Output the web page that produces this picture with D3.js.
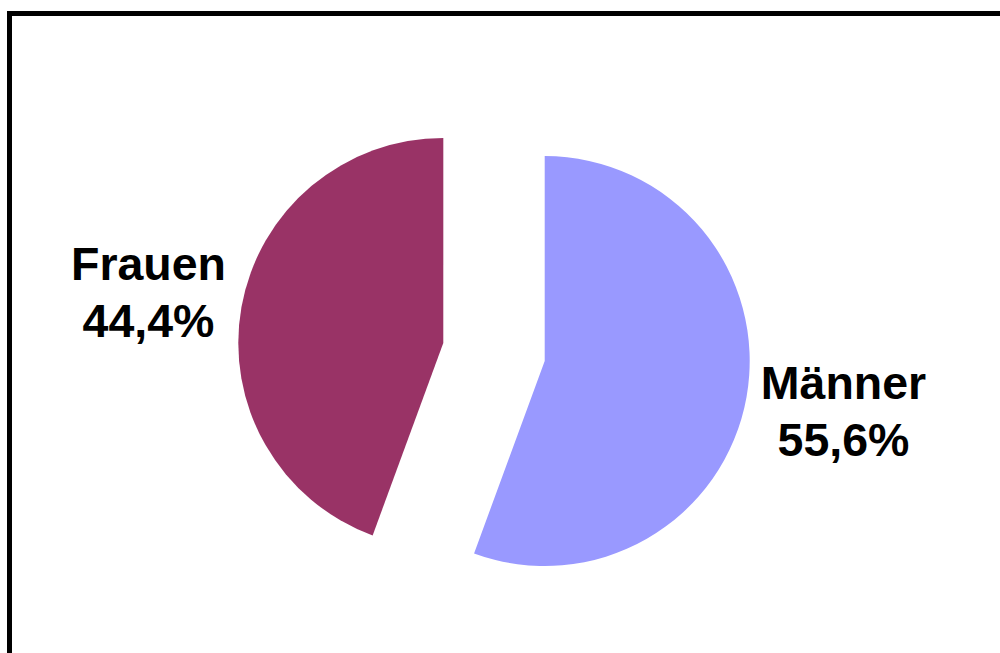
<!DOCTYPE html>
<html>
<head>
<meta charset="utf-8">
<script src="https://cdn.jsdelivr.net/npm/d3@7"></script>
<style>
html,body{margin:0;padding:0;background:#fff;}
svg{display:block;}
</style>
</head>
<body>
<svg id="chart" width="1000" height="653"></svg>
<script>
const categories = ["Männer", "Frauen"];
const values = [55.6, 44.4];
const valueLabels = ["55,6%", "44,4%"];
const colors = ["#9999FF", "#993366"];

const svg = d3.select("#chart");

// frame
svg.append("rect")
  .attr("x", 9.5).attr("y", 13.5)
  .attr("width", 1100).attr("height", 800)
  .attr("fill", "none").attr("stroke", "#000").attr("stroke-width", 5);

const cx = 494, cy = 352, r = 205, explode = 51.5;

const pie = d3.pie().sort(null).value(d => d.v);
const arcs = pie(categories.map((c, i) => ({c, v: values[i], label: valueLabels[i], color: colors[i]})));
const arc = d3.arc().innerRadius(0).outerRadius(r);

const g = svg.append("g").attr("transform", `translate(${cx},${cy})`);

g.selectAll("path").data(arcs).enter().append("path")
  .attr("d", arc)
  .attr("fill", d => d.data.color)
  .attr("transform", d => {
    const a = (d.startAngle + d.endAngle) / 2;
    return `translate(${explode * Math.sin(a)},${-explode * Math.cos(a)})`;
  });

// labels
const labelPos = {"Männer": [843.5, 399], "Frauen": [148.5, 279.5]};
const lab = svg.append("g")
  .attr("font-family", "Arial, 'Liberation Sans', Helvetica, sans-serif")
  .attr("font-weight", "bold")
  .attr("font-size", 46.5)
  .attr("text-anchor", "middle")
  .attr("fill", "#000");

arcs.forEach(d => {
  const p = labelPos[d.data.c];
  const t = lab.append("text").attr("x", p[0]).attr("y", p[1]);
  t.append("tspan").attr("x", p[0]).attr("dy", 0).text(d.data.c);
  t.append("tspan").attr("x", p[0]).attr("dy", 57).text(d.data.label);
});
</script>
</body>
</html>
